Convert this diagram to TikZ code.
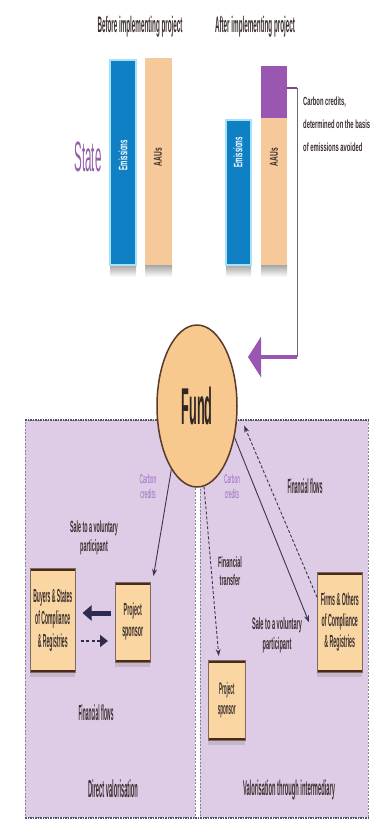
\documentclass[tikz,border=0pt]{standalone}
\usepackage{fontspec}
\setmainfont{Liberation Sans}
\usepackage{graphicx}
\usetikzlibrary{shapes.geometric,arrows.meta,shadows}
\definecolor{bluec}{HTML}{1080C4}
\definecolor{cyanl}{HTML}{A8E2F6}
\definecolor{aauc}{HTML}{F6C99B}
\definecolor{purc}{HTML}{9A57B2}
\definecolor{fundc}{HTML}{F7C98E}
\definecolor{fundedge}{HTML}{5A3A2A}
\definecolor{boxc}{HTML}{F9D6A2}
\definecolor{boxedge}{HTML}{4A2A1A}
\definecolor{lav}{HTML}{DECBE6}
\definecolor{txt}{HTML}{3A2E2E}
\definecolor{ptxt}{HTML}{9B6FC0}
\definecolor{arr}{HTML}{3A3550}
\definecolor{navy}{HTML}{2E2B4E}
\definecolor{bord}{HTML}{55506A}
\newcommand{\sq}[3]{\resizebox*{#1}{#2}{#3}}
\newcommand{\ml}[1]{\begin{tabular}{@{}c@{}}#1\end{tabular}}
\tikzset{
  bar/.style={anchor=north west, inner sep=0pt, outer sep=0pt},
  barshadow/.style={top color=black!35, bottom color=white, draw=none},
  boxs/.style={anchor=north west, fill=boxc, draw=boxedge!70, line width=0.5pt, inner sep=0pt,
    drop shadow={shadow xshift=0pt, shadow yshift=-5pt, opacity=0.2, fill=black!60},
    path picture={\draw[boxedge, line width=5pt]
      (path picture bounding box.north west) -- (path picture bounding box.north east)
      (path picture bounding box.south west) -- (path picture bounding box.south east);}},
  panel/.style={anchor=north west, fill=lav, draw=bord!70, dash pattern=on 2pt off 1.5pt, line width=0.8pt, inner sep=0pt},
  edgeline/.style={draw=bord, line width=1.6pt, dash pattern=on 1.5pt off 1pt},
  lbl/.style={inner sep=0pt, text=txt, font=\bfseries},
  plbl/.style={inner sep=0pt, text=ptxt},
  flow/.style={draw=arr, line width=0.9pt, -{Stealth[length=7pt,width=5pt]}},
  dflow/.style={flow, dash pattern=on 3pt off 2pt},
  thickarr/.style={draw=navy, line width=5pt, -{Triangle[width=15pt,length=9pt]}},
  dasharr/.style={draw=navy, line width=1.6pt, dash pattern=on 3pt off 2.5pt, -{Triangle[width=12pt,length=8pt]}},
  tickline/.style={draw=purc!80!black, line width=2.5pt},
  vline/.style={draw=purc!40!black!70, line width=1pt},
  bigarr/.style={draw=purc, line width=4.5pt, -{Triangle[width=40pt,length=13pt]}},
}
\begin{document}
\begin{tikzpicture}[x=1pt,y=-1pt]
\useasboundingbox (0,0) rectangle (372,827);
\fill[white] (0,0) rectangle (372,827);
% titles
\node[lbl] (tbefore) at (140,27) {\sq{85pt}{21pt}{Before implementing project}};
\node[lbl] (tafter) at (255,27) {\sq{80pt}{21pt}{After implementing project}};
\node[plbl, text=purc!80!gray] (tstate) at (88,157) {\sq{27pt}{30pt}{State}};
% bar shadows
\fill[barshadow] (110,265) rectangle (136,277);
\fill[barshadow] (145,265) rectangle (172,277);
\fill[barshadow] (226,265) rectangle (251,277);
\fill[barshadow] (261,265) rectangle (287,277);
% bars
\node[bar, fill=bluec, draw=cyanl, line width=2pt, minimum width=26pt, minimum height=205pt] (e1) at (110,60) {};
\node[bar, fill=aauc, minimum width=27pt, minimum height=207pt] (a1) at (145,58) {};
\node[bar, fill=bluec, draw=cyanl, line width=2pt, minimum width=25pt, minimum height=145pt] (e2) at (226,120) {};
\node[bar, fill=aauc, minimum width=26pt, minimum height=147pt] (a2) at (261,118) {};
\node[bar, fill=purc, minimum width=26pt, minimum height=52pt] (c2) at (261,66) {};
\node[lbl, text=white, rotate=90] (te1) at (123,155) {\sq{30pt}{9pt}{Emissions}};
\node[lbl, rotate=90] (ta1) at (158,157) {\sq{18pt}{8pt}{AAUs}};
\node[lbl, text=white, rotate=90] (te2) at (238,152) {\sq{30pt}{9pt}{Emissions}};
\node[lbl, rotate=90] (ta2) at (274,157) {\sq{18pt}{8pt}{AAUs}};
% carbon credits note
\node[lbl, anchor=west] (tcc) at (303,124) {\sq{67pt}{68pt}{\renewcommand{\arraystretch}{1.6}\begin{tabular}{@{}l@{}}Carbon credits,\\determined on the basis\\of emissions avoided\end{tabular}}};
% connector to fund
\coordinate (tick) at (297,88);
\coordinate (corner) at (297,357);
\coordinate (tip) at (248,357);
\draw[tickline] (c2.east |- tick) -- (tick);
\draw[vline] (tick) -- (corner);
\draw[bigarr] (corner) -- (tip);
% panels
\node[panel, minimum width=170pt, minimum height=397pt] (lp) at (25,420) {};
\node[panel, minimum width=168pt, minimum height=397pt] (rp) at (200,420) {};
\draw[edgeline] (lp.north west) -- (rp.north east);
\draw[edgeline] (lp.south west) -- (rp.south east);
% fund
\node[ellipse, fill=fundc, draw=fundedge, line width=1.5pt, minimum width=80pt, minimum height=162pt, inner sep=0pt] (fund) at (197,406) {\textcolor{txt!80!black}{\sq{31pt}{38pt}{\bfseries Fund}}};
% boxes
\node[boxs, minimum width=45pt, minimum height=104pt] (lh) at (30,568) {};
\node[boxs, minimum width=35pt, minimum height=80pt] (ls) at (115,582) {};
\node[boxs, minimum width=45pt, minimum height=100pt] (rh) at (317,572) {};
\node[boxs, minimum width=37pt, minimum height=80pt] (rs) at (208,660) {};
\node[lbl] (tlh) at (lh.center) {\sq{39pt}{68pt}{\ml{Buyers \& States\\of Compliance\\\& Registries}}};
\node[lbl] (tls) at (ls.center) {\sq{21pt}{42pt}{\ml{Project\\sponsor}}};
\node[lbl] (trh) at (rh.center) {\sq{38pt}{63pt}{\ml{Firms \& Others\\of Compliance\\\& Registries}}};
\node[lbl] (trs) at (rs.center) {\sq{18pt}{40pt}{\ml{Project\\sponsor}}};
% labels
\node[plbl] (tccl) at (148,488) {\sq{17pt}{30pt}{\ml{Carbon\\credits}}};
\node[plbl] (tccr) at (232,488) {\sq{16pt}{30pt}{\ml{Carbon\\credits}}};
\node[lbl] (tffr) at (305,486) {\sq{35pt}{15pt}{Financial flows}};
\node[lbl] (tsalel) at (94,538) {\sq{48pt}{39pt}{\ml{Sale to a voluntary\\participant}}};
\node[lbl] (tffl) at (96,713) {\sq{35pt}{16pt}{Financial flows}};
\node[lbl] (tft) at (230,573) {\sq{24pt}{36pt}{\ml{Financial\\transfer}}};
\node[lbl] (tsaler) at (277,635) {\sq{50pt}{40pt}{\ml{Sale to a voluntary\\participant}}};
\node[lbl] (tdv) at (113,789) {\sq{50pt}{18pt}{Direct valorisation}};
\node[lbl] (tvi) at (289,790) {\sq{92pt}{20pt}{Valorisation through intermediary}};
% connectors
\draw[flow] (fund.-112) -- ([xshift=3pt,yshift=6pt]ls.north east);
\coordinate (yA) at (0,613);
\coordinate (yB) at (0,641);
\draw[thickarr, shorten <=4pt, shorten >=7pt] (ls.west |- yA) -- (lh.east |- yA);
\draw[dasharr, shorten <=5pt, shorten >=7pt] (lh.east |- yB) -- (ls.west |- yB);
\draw[flow] (fund.-40) -- ([xshift=-8pt]rh.west);
\draw[dflow] ([yshift=25pt]rh.west) -- ([xshift=8pt,yshift=3pt]fund.-30);
\draw[dflow] (fund.-85) -- ([xshift=-8pt,yshift=4pt]rs.north);
\end{tikzpicture}
\end{document}
